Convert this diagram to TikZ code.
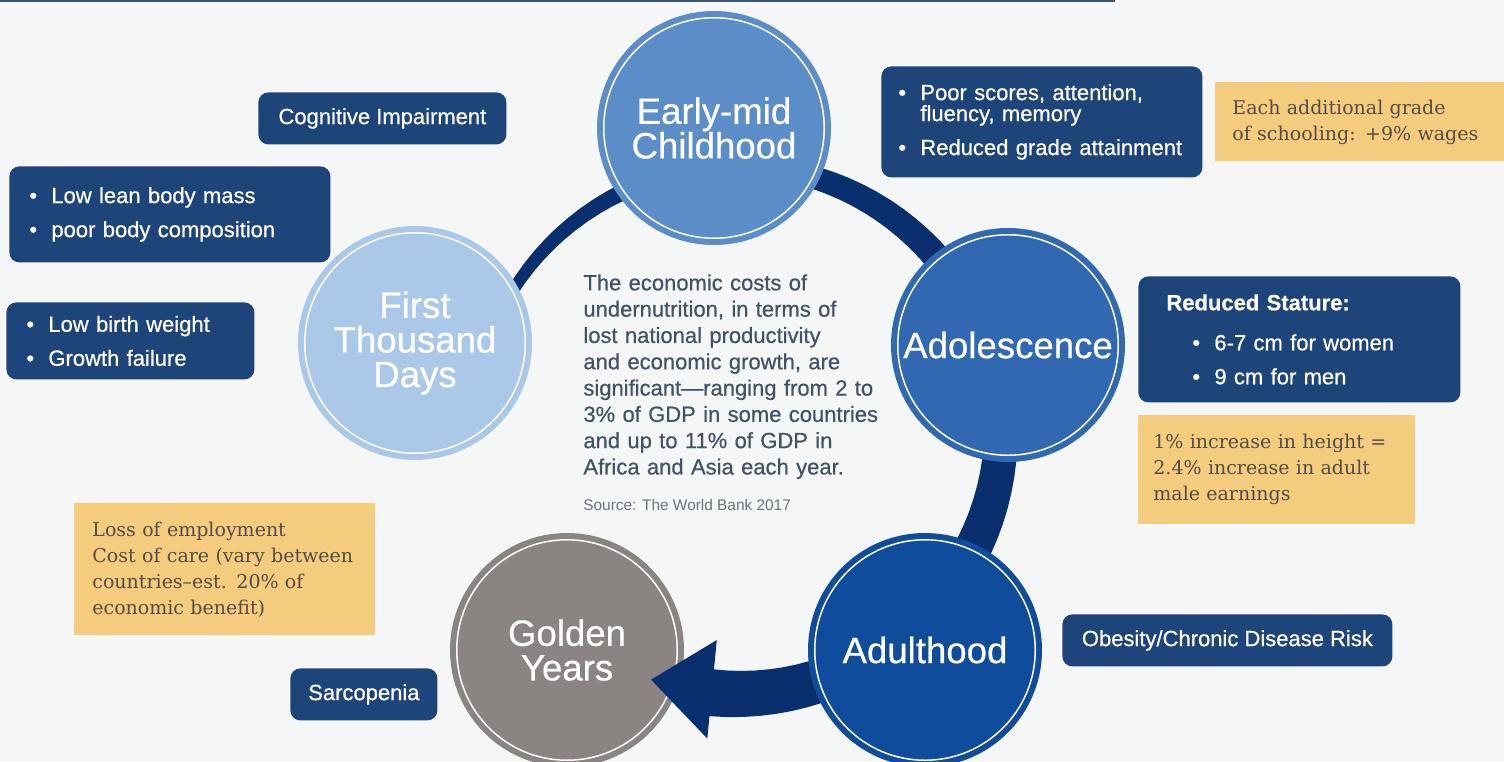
\documentclass[tikz,border=0pt]{standalone}
\usepackage{fontspec}
\setmainfont{Liberation Sans}
\newfontfamily\medfont{Liberation Sans}[FakeBold=0.6]
\newfontfamily\slabfont{DejaVu Serif}
\usetikzlibrary{positioning}

\definecolor{pagebg}{RGB}{245,247,246}
\definecolor{topline}{RGB}{60,86,106}
\definecolor{boxblue}{RGB}{30,69,122}
\definecolor{ringblue}{RGB}{10,47,110}
\definecolor{noteyellow}{RGB}{243,204,125}
\definecolor{notetext}{RGB}{84,76,70}
\definecolor{costgray}{RGB}{64,84,102}
\definecolor{sourcegray}{RGB}{105,115,125}
\definecolor{ftdblue}{RGB}{170,201,233}
\definecolor{emcblue}{RGB}{91,141,201}
\definecolor{adoblue}{RGB}{48,104,177}
\definecolor{adublue}{RGB}{15,76,155}
\definecolor{goldgray}{RGB}{138,132,130}

% centre of the cycle ring (pixels)
\newcommand{\RingX}{737}
\newcommand{\RingY}{430}
\newcommand{\RingR}{264}
\newcommand{\bul}[1]{\mbox{\makebox[11pt][l]{\textbullet}#1}}

\tikzset{
	declare function={ringw(\a)=12+0.145*(146-\a);},
	stage/.style={circle, minimum size=110.25pt, inner sep=0pt, fill=#1, draw=#1,
		line width=3pt, double=white, double distance=0.75pt, text=white,
		align=center, font=\medfont\fontsize{18.3}{17.3}\selectfont},
	factbox/.style={rounded corners=5pt, fill=boxblue, text=white, align=left,
		inner ysep=0pt, font=\medfont\fontsize{11}{10.5}\selectfont},
	notebox/.style={fill=noteyellow, text=notetext, align=left, inner ysep=0pt,
		font=\slabfont\fontsize{9.5}{13}\selectfont},
	costtext/.style={text=costgray, align=left, text width=160pt, inner sep=0pt,
		font=\medfont\fontsize{11}{13.15}\selectfont},
	source/.style={text=sourcegray, inner sep=0pt, font=\fontsize{7.7}{9}\selectfont}
}

\begin{document}
\begin{tikzpicture}[x=0.5pt, y=-0.5pt]
	% page and top rule
	\useasboundingbox (0,0) rectangle (1504,761);
	\fill[pagebg] (0,0) rectangle (1504,761);
	\draw[topline, line width=1pt] (0,1) -- (1115,1);
	
	% golden years sits under the arrow head
	\node[stage=goldgray] (gold) at (567,650) {Golden\\Years};
	
	% cycle ring, getting thicker towards the arrow
	\fill[ringblue]
		plot[domain=165:-95.5, samples=80] ({\RingX+(\RingR+ringw(\x)/2)*cos(\x)}, {\RingY-(\RingR+ringw(\x)/2)*sin(\x)})
		-- ({\RingX+310*cos(-95.5)}, {\RingY-310*sin(-95.5)})
		-- ({\RingX+\RingR*cos(-109)}, {\RingY-\RingR*sin(-109)})
		-- ({\RingX+211*cos(-95.5)}, {\RingY-211*sin(-95.5)})
		-- plot[domain=-95.5:165, samples=80] ({\RingX+(\RingR-ringw(\x)/2)*cos(\x)}, {\RingY-(\RingR-ringw(\x)/2)*sin(\x)})
		-- cycle;
	
	% life stages
	\node[stage=ftdblue] (ftd) at (415,343) {First\\Thousand\\Days};
	\node[stage=emcblue] (emc) at (714,128) {Early-mid\\Childhood};
	\node[stage=adoblue] (ado) at (1008,345) {Adolescence};
	\node[stage=adublue] (adu) at (925,650) {Adulthood};
	
	% centre text
	\node[costtext, anchor=north west] (costs) at (583,274) {The economic costs of\\
		undernutrition, in terms of\\
		lost national productivity\\
		and economic growth, are\\
		significant—ranging from 2 to\\
		3\% of GDP in some countries\\
		and up to 11\% of GDP in\\
		Africa and Asia each year.};
	\node[source, below=10pt of costs.south west, anchor=north west] (src) {Source: The World Bank 2017};
	
	% effects, left side
	\node[factbox, anchor=north west, minimum width=124pt, minimum height=26pt] (cogbox) at (258,92) {Cognitive Impairment};
	\node[factbox, anchor=north west, inner xsep=10pt, text width=140.5pt, minimum height=48pt] (leanbox) at (9,166)
		{\bul{Low lean body mass}\\[6.5pt]\bul{poor body composition}};
	\node[factbox, anchor=north west, inner xsep=10pt, text width=104pt, minimum height=38.5pt] (birthbox) at (6,302)
		{\bul{Low birth weight}\\[6.5pt]\bul{Growth failure}};
	\node[factbox, anchor=north west, minimum width=73.5pt, minimum height=26pt] (sarcbox) at (290,668) {Sarcopenia};
	
	% effects, right side
	\node[factbox, anchor=north west, inner xsep=8.5pt, text width=143.5pt, minimum height=55.5pt] (schoolbox) at (881,66)
		{\bul{Poor scores, attention,}\\\hspace*{11pt}fluency, memory\\[6.5pt]\bul{Reduced grade attainment}};
	\node[factbox, anchor=north west, inner xsep=14pt, text width=133pt, minimum height=63pt] (staturebox) at (1138,276)
		{\textbf{Reduced Stature:}\\[9.5pt]\hspace*{13pt}\bul{6-7 cm for women}\\[6.5pt]\hspace*{13pt}\bul{9 cm for men}};
	\node[factbox, anchor=north west, minimum width=165pt, minimum height=26pt] (obesitybox) at (1062,614) {Obesity/Chronic Disease Risk};
	
	% economic notes
	\node[notebox, anchor=north west, inner xsep=8.5pt, text width=127.5pt, minimum height=39.5pt] (gradebox) at (1215,82)
		{Each additional grade\\of schooling: +9\% wages};
	\node[notebox, anchor=north west, inner xsep=7.5pt, text width=123.5pt, minimum height=54.5pt] (heightbox)
		at ([yshift=-6pt]staturebox.south west)
		{1\% increase in height =\\2.4\% increase in adult\\male earnings};
	\node[notebox, anchor=north west, inner xsep=9pt, text width=132.5pt, minimum height=66pt] (lossbox) at (74,503)
		{Loss of employment\\Cost of care (vary between\\countries–est. 20\% of\\economic benefit)};
	
\end{tikzpicture}
\end{document}
